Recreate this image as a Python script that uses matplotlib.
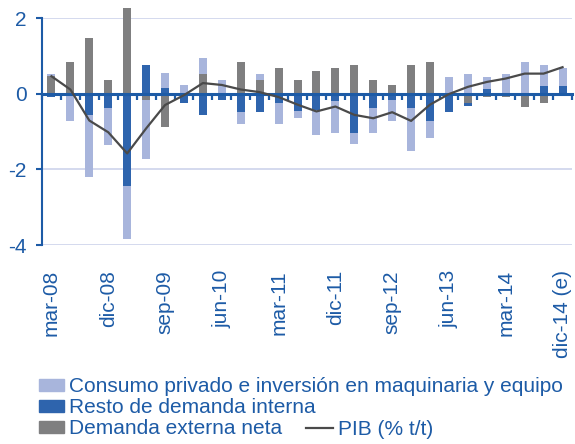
import numpy as np
import matplotlib
matplotlib.use("Agg")
import matplotlib.pyplot as plt
from matplotlib.patches import Patch
from matplotlib.lines import Line2D

plt.rcParams['font.family'] = ['Liberation Sans', 'DejaVu Sans']

quarters = ['mar-08', 'jun-08', 'sep-08', 'dic-08',
            'mar-09', 'jun-09', 'sep-09', 'dic-09',
            'mar-10', 'jun-10', 'sep-10', 'dic-10',
            'mar-11', 'jun-11', 'sep-11', 'dic-11',
            'mar-12', 'jun-12', 'sep-12', 'dic-12',
            'mar-13', 'jun-13', 'sep-13', 'dic-13',
            'mar-14', 'jun-14', 'sep-14', 'dic-14 (e)']
label_quarters = ['mar-08', 'dic-08', 'sep-09', 'jun-10', 'mar-11',
                  'dic-11', 'sep-12', 'jun-13', 'mar-14', 'dic-14 (e)']

consumo = [0.07, -0.71, -1.64, -0.96, -1.40, -1.57, 0.40, 0.22,
           0.40, 0.37, -0.31, 0.16, -0.55, -0.18, -0.68, -0.83,
           -0.31, -0.65, -0.55, -1.13, -0.47, 0.44, 0.52, 0.31,
           0.52, 0.85, 0.56, 0.48]
resto = [-0.10, 0.00, -0.56, -0.39, -2.44, 0.77, 0.14, -0.25,
         -0.56, -0.16, -0.49, -0.49, -0.25, -0.47, -0.42, -0.20,
         -1.03, -0.38, -0.16, -0.38, -0.71, -0.49, -0.07, 0.13,
         0.00, 0.00, 0.21, 0.21]
externa = [0.46, 0.85, 1.48, 0.37, 2.26, -0.16, -0.87, 0.00,
           0.53, 0.00, 0.84, 0.37, 0.68, 0.37, 0.61, 0.68,
           0.77, 0.37, 0.22, 0.77, 0.84, 0.00, -0.25, -0.10,
           -0.10, -0.34, -0.25, 0.00]
pib = [0.46, 0.11, -0.71, -1.02, -1.58, -0.92, -0.30, -0.04,
       0.28, 0.23, 0.11, 0.04, -0.09, -0.29, -0.47, -0.34,
       -0.56, -0.65, -0.49, -0.72, -0.29, -0.01, 0.18, 0.31,
       0.40, 0.53, 0.53, 0.70]

BLUE = '#1d5ba6'
C_LIGHT = '#a8b5dc'
C_DARK = '#2e64ad'
C_GREY = '#7f7f80'
C_LINE = '#4a4a4a'
GRID = '#c9d0ea'

fig = plt.figure(figsize=(5.75, 4.44), dpi=100)
ax = fig.add_axes([42 / 575, 1 - 245 / 444, 530 / 575, 227 / 444])

x = np.arange(len(quarters))
pos_bottom = np.zeros(len(x))
neg_bottom = np.zeros(len(x))
for vals, col in [(externa, C_GREY), (resto, C_DARK), (consumo, C_LIGHT)]:
    v = np.array(vals)
    pos = np.where(v > 0, v, 0)
    neg = np.where(v < 0, v, 0)
    ax.bar(x, pos, bottom=pos_bottom, width=0.42, color=col, clip_on=False, zorder=2)
    ax.bar(x, neg, bottom=neg_bottom, width=0.42, color=col, clip_on=False, zorder=2)
    pos_bottom += pos
    neg_bottom += neg

ax.plot(x, pib, color=C_LINE, lw=1.6, zorder=4)

ax.set_xlim(-0.5, len(x) - 0.5)
ax.set_ylim(-4, 2)
ax.set_yticks([-4, -2, 0, 2])
ax.set_yticklabels(['-4', '-2', '0', '2'])
ax.yaxis.grid(True, color=GRID, lw=1.1, zorder=0)
ax.set_axisbelow(True)

for s in ['top', 'right']:
    ax.spines[s].set_visible(False)
ax.spines['left'].set_color(BLUE)
ax.spines['left'].set_linewidth(1.5)
ax.spines['bottom'].set_position(('data', 0))
ax.spines['bottom'].set_color(BLUE)
ax.spines['bottom'].set_linewidth(2.2)
ax.spines['bottom'].set_zorder(3)

ax.set_xticks(np.arange(-0.5, len(x), 1))
ax.tick_params(axis='x', direction='out', length=4, width=1.6, color=BLUE,
               labelbottom=False)
ax.tick_params(axis='y', direction='out', length=4, width=1.5, color=BLUE,
               labelcolor=BLUE, labelsize=15, pad=7)

sec = ax.secondary_xaxis('bottom')
sec.set_xticks([quarters.index(q) for q in label_quarters])
sec.set_xticklabels(label_quarters, rotation=90, va='top', ha='center')
sec.tick_params(length=0, pad=18, labelcolor=BLUE, labelsize=15)
sec.spines['bottom'].set_visible(False)

h1 = [Patch(color=C_LIGHT), Patch(color=C_DARK), Patch(color=C_GREY)]
l1 = ['Consumo privado e inversión en maquinaria y equipo',
      'Resto de demanda interna', 'Demanda externa neta']
leg1 = fig.legend(h1, l1, loc='upper left', bbox_to_anchor=(39 / 575, 1 - 377 / 444),
                  frameon=False, fontsize=15, handlelength=1.2, handleheight=0.5,
                  handletextpad=0.25, labelspacing=0.1, borderpad=0,
                  borderaxespad=0, labelcolor=BLUE)
leg2 = fig.legend([Line2D([], [], color=C_LINE, lw=1.6)], ['PIB (% t/t)'],
                  loc='upper left', bbox_to_anchor=(306 / 575, 1 - 420 / 444),
                  frameon=False, fontsize=15, handlelength=1.3,
                  handletextpad=0.25, borderpad=0, borderaxespad=0,
                  labelcolor=BLUE)

fig.savefig('out.png', dpi=100)
